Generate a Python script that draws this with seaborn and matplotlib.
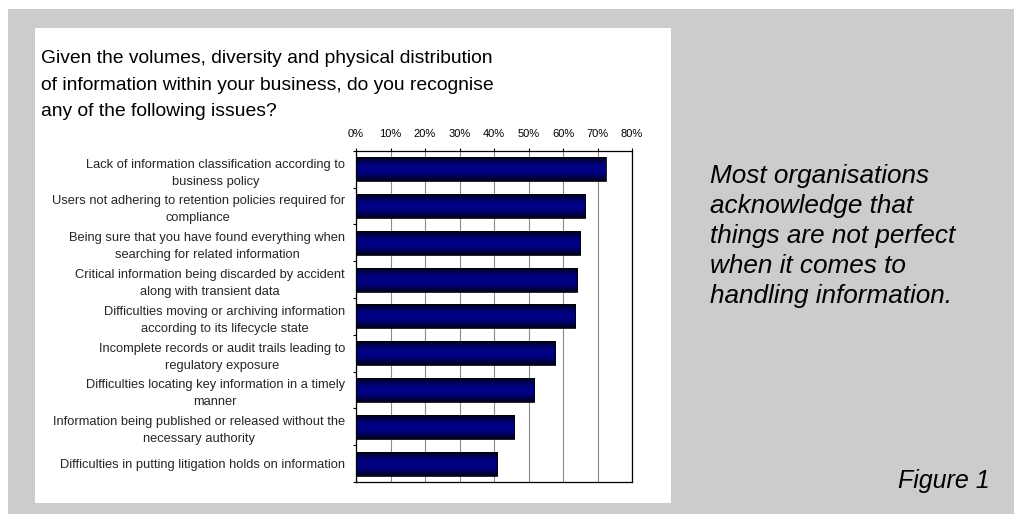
import numpy as np
import pandas as pd
import seaborn as sns
import matplotlib
import matplotlib.pyplot as plt
from matplotlib.patches import Rectangle
from matplotlib.colors import LinearSegmentedColormap

# ---- data -------------------------------------------------------------
categories = [
    "Lack of information classification according to business policy",
    "Users not adhering to retention policies required for compliance",
    "Being sure that you have found everything when searching for related information",
    "Critical information being discarded by accident along with transient data",
    "Difficulties moving or archiving information according to its lifecycle state",
    "Incomplete records or audit trails leading to regulatory exposure",
    "Difficulties locating key information in a timely manner",
    "Information being published or released without the necessary authority",
    "Difficulties in putting litigation holds on information",
]
category_labels = [
    "Lack of information classification according to\nbusiness policy",
    "Users not adhering to retention policies required for\ncompliance",
    "Being sure that you have found everything when\nsearching for related information",
    "Critical information being discarded by accident\nalong with transient data",
    "Difficulties moving or archiving information\naccording to its lifecycle state",
    "Incomplete records or audit trails leading to\nregulatory exposure",
    "Difficulties locating key information in a timely\nmanner",
    "Information being published or released without the\nnecessary authority",
    "Difficulties in putting litigation holds on information",
]
values = [72.4, 66.4, 65.0, 64.1, 63.5, 57.7, 51.6, 45.8, 40.9]
x_ticks = [0, 10, 20, 30, 40, 50, 60, 70, 80]
x_tick_labels = ["0%", "10%", "20%", "30%", "40%", "50%", "60%", "70%", "80%"]
title_lines = [
    "Given the volumes, diversity and physical distribution",
    "of information within your business, do you recognise",
    "any of the following issues?",
]
side_lines = [
    "Most organisations",
    "acknowledge that",
    "things are not perfect",
    "when it comes to",
    "handling information.",
]
figure_label = "Figure 1"

# ---- style ------------------------------------------------------------
sns.set_theme(style="white")
plt.rcParams["font.family"] = ["Liberation Sans", "DejaVu Sans"]

W, H = 1014, 514
fig = plt.figure(figsize=(W / 100, H / 100), dpi=100)
fig.patch.set_facecolor("white")

def fx(px):
    return px / W

def fy(py):
    return 1 - py / H

# grey frame and white panel
fig.add_artist(Rectangle((fx(8), 0), (W - 8) / W, (H - 9) / H, transform=fig.transFigure,
                         facecolor="#cccccc", edgecolor="none", zorder=0))
fig.add_artist(Rectangle((fx(35), fy(503)), (671 - 35) / W, (503 - 28) / H,
                         transform=fig.transFigure, facecolor="white",
                         edgecolor="none", zorder=0))

ax = fig.add_axes([fx(356), fy(482), (632 - 356) / W, (482 - 150.7) / H])
ax.set_facecolor("white")

df = pd.DataFrame({"issue": categories, "pct": values})
sns.barplot(data=df, x="pct", y="issue", orient="h", color="#000080",
            saturation=1, width=0.65, edgecolor="black", linewidth=0.6, ax=ax)

# gradient fill for each bar
cmap = LinearSegmentedColormap.from_list(
    "navy", [(0.0, "#00001c"), (0.3, "#000078"), (0.5, "#00008a"),
             (0.7, "#000078"), (1.0, "#00001c")])
grad = np.linspace(0, 1, 64).reshape(-1, 1)
for p in list(ax.patches):
    bb = p.get_bbox()
    im = ax.imshow(grad, cmap=cmap, aspect="auto", interpolation="bicubic",
                   extent=(bb.x0, bb.x1, bb.y0, bb.y1), zorder=2)
    im.set_clip_path(p)
    p.set_zorder(3)
    p.set_facecolor("none")

n = len(categories)
ax.set_xlim(0, 80)
ax.set_ylim(n - 0.5, -0.5)

ax.xaxis.tick_top()
ax.xaxis.set_label_position("top")
ax.set_xticks(x_ticks)
ax.set_xticklabels(x_tick_labels, fontsize=8)
ax.tick_params(axis="x", direction="out", length=2.5, width=0.8, pad=5.6,
               color="black", labelcolor="black", top=True, bottom=False)

ax.set_yticks(range(n))
ax.set_yticklabels(category_labels, fontsize=9.3, multialignment="center",
                   linespacing=1.55)
ax.set_yticks(np.arange(-0.5, n, 1.0), minor=True)
ax.tick_params(axis="y", which="major", length=0, pad=8)
ax.tick_params(axis="y", which="minor", direction="out", length=2.5, width=0.8,
               color="black", left=True)
ax.set_xlabel("")
ax.set_ylabel("")

ax.grid(axis="x", color="#8c8c8c", linewidth=0.8)
ax.grid(axis="y", visible=False)
ax.set_axisbelow(True)
for s in ax.spines.values():
    s.set_visible(True)
    s.set_color("black")
    s.set_linewidth(0.9)

# title
for line, base in zip(title_lines, [63, 90, 116.5]):
    fig.text(fx(41), fy(base), line, fontsize=13.9,
             ha="left", va="baseline", color="black")

# side note
for line, base in zip(side_lines, [183, 213, 243, 273, 303]):
    fig.text(fx(710), fy(base), line, fontsize=18.8, style="italic",
             ha="left", va="baseline", color="black")

fig.text(fx(990), fy(488), figure_label, fontsize=18, style="italic",
         ha="right", va="baseline", color="black")

fig.savefig("out.png", dpi=100, facecolor=fig.get_facecolor())
